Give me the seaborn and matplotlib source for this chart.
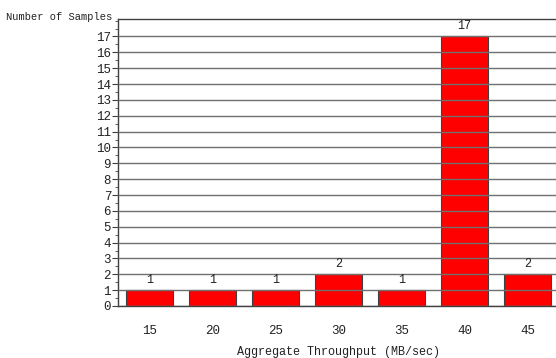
import pandas as pd
import matplotlib.pyplot as plt
import seaborn as sns
from matplotlib.ticker import MultipleLocator, FixedLocator

# Data
throughput = ["15", "20", "25", "30", "35", "40", "45"]
samples = [1, 1, 1, 2, 1, 17, 2]
y_ticks = list(range(0, 18))

sns.set_theme(style="white")
plt.rcParams['font.family'] = ['Liberation Mono', 'DejaVu Sans Mono']

df = pd.DataFrame({'Throughput': throughput, 'Samples': samples})

fig = plt.figure(figsize=(5.56, 3.58), dpi=100)
ax = fig.add_axes([118 / 556, 52 / 358, 441 / 556, 287 / 358])

sns.barplot(data=df, x='Throughput', y='Samples', color='#ff0000',
            saturation=1, width=0.75, edgecolor='#404040', linewidth=0.8,
            ax=ax, zorder=1)

# gridlines drawn on top of the bars
ax.set_axisbelow(False)
ax.yaxis.grid(True, color='#707070', linewidth=1, zorder=3)
ax.xaxis.grid(False)

ax.set_xlim(-0.5, 6.5)
ax.set_ylim(0, 18.1)
ax.yaxis.set_major_locator(FixedLocator(y_ticks))
ax.yaxis.set_minor_locator(MultipleLocator(0.5))
ax.tick_params(axis='y', which='major', left=True, length=4, width=0.8,
               color='#404040', labelsize=9, pad=1, labelcolor='#222222')
ax.tick_params(axis='y', which='minor', left=True, length=2, width=0.6,
               color='#404040')
ax.tick_params(axis='x', bottom=False, labelsize=9, pad=8,
               labelcolor='#222222')

for s in ['left', 'bottom', 'top']:
    ax.spines[s].set_color('#404040')
    ax.spines[s].set_linewidth(1)
ax.spines['right'].set_visible(False)

for i, v in enumerate(samples):
    ax.text(i, v + 0.25, str(v), ha='center', va='bottom', fontsize=8.5,
            color='#222222')

ax.set_xlabel('Aggregate Throughput (MB/sec)', fontsize=8.5, labelpad=6,
              color='#222222')
ax.set_ylabel('')
fig.text(6 / 556, 1 - 17 / 358, 'Number of Samples', fontsize=7.5,
         va='center', ha='left', color='#222222')

fig.savefig('out.png', dpi=100)
